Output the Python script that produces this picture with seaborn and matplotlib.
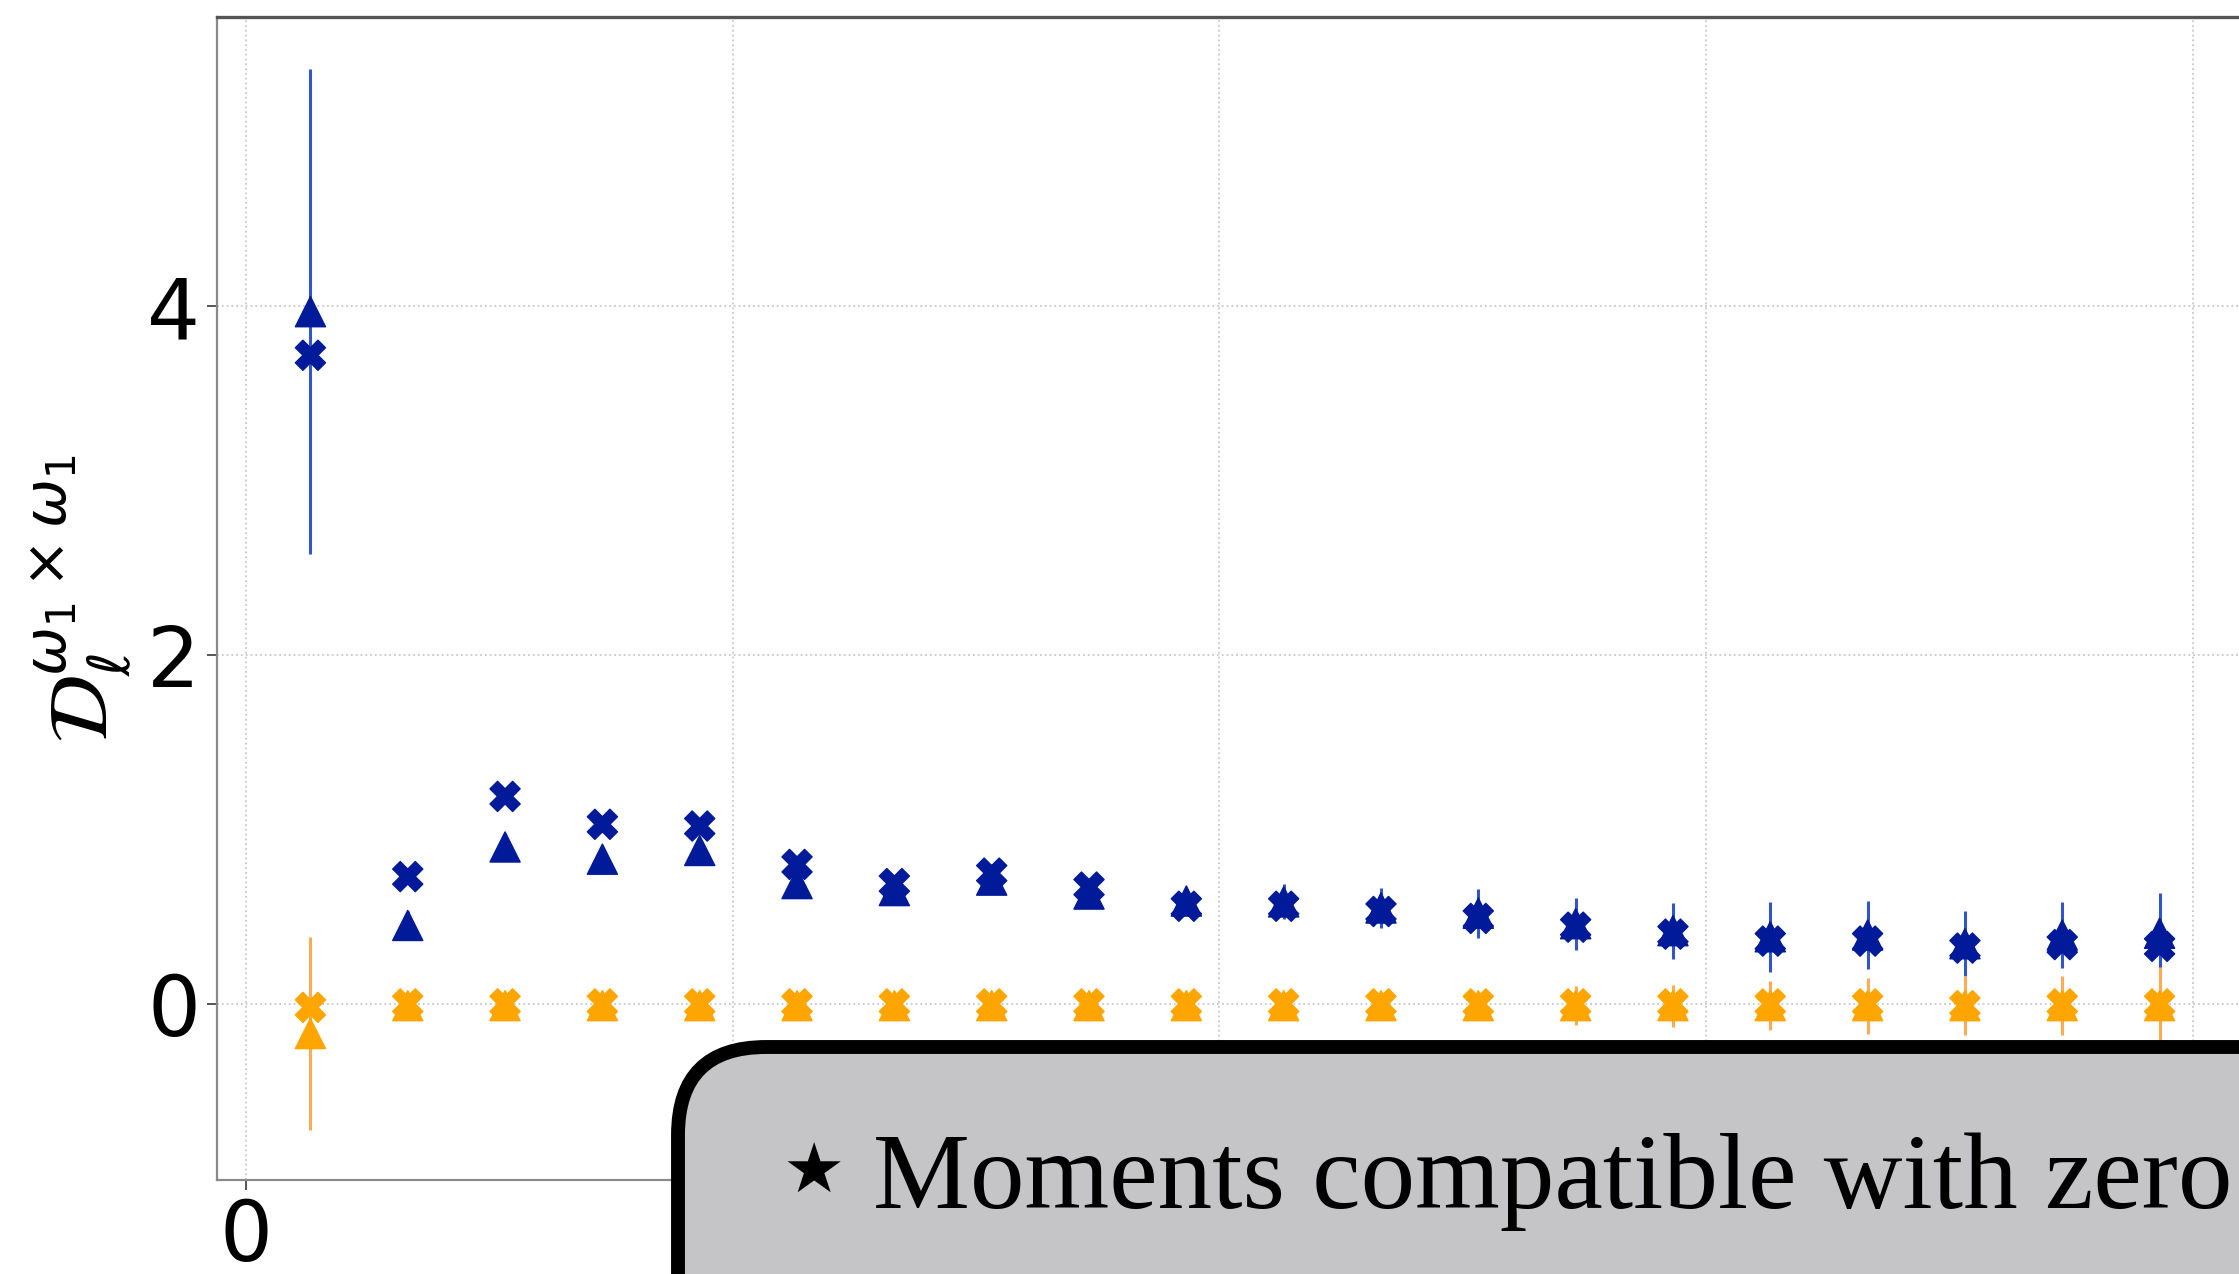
import numpy as np
import pandas as pd
import matplotlib
matplotlib.use("Agg")
import matplotlib.pyplot as plt
import seaborn as sns
from matplotlib.patches import FancyBboxPatch
from matplotlib.transforms import IdentityTransform

# multipole bin centres
ell = [66, 166, 266, 366, 466, 566, 666, 766, 866, 966,
       1066, 1166, 1266, 1366, 1466, 1566, 1666, 1766, 1866, 1966]

# omega_1 x omega_1 band powers, two estimators
w1_cross = [3.72, 0.73, 1.19, 1.03, 1.02, 0.80, 0.69, 0.75, 0.67, 0.56,
            0.56, 0.53, 0.49, 0.44, 0.40, 0.36, 0.36, 0.32, 0.34, 0.33]
w1_tri = [3.97, 0.45, 0.90, 0.83, 0.88, 0.69, 0.65, 0.71, 0.63, 0.59,
          0.585, 0.55, 0.52, 0.46, 0.42, 0.385, 0.395, 0.345, 0.395, 0.405]
w1_err = [1.39, 0.08, 0.04, 0.04, 0.04, 0.05, 0.05, 0.05, 0.06, 0.07,
          0.10, 0.115, 0.14, 0.15, 0.16, 0.20, 0.195, 0.185, 0.19, 0.23]

# null-test band powers, two estimators
null_cross = [-0.02, 0.0, 0.0, 0.0, 0.0, 0.0, 0.0, 0.0, 0.0, 0.0,
              0.0, 0.0, 0.0, 0.0, 0.0, 0.0, 0.0, -0.01, 0.0, 0.0]
null_tri = [-0.17, -0.01, -0.01, -0.01, -0.01, -0.01, -0.01, -0.01, -0.01, -0.01,
            -0.01, -0.01, -0.01, -0.01, -0.01, -0.01, -0.01, -0.01, -0.01, -0.01]
null_err = [0.555, 0.03, 0.03, 0.03, 0.03, 0.03, 0.03, 0.03, 0.04, 0.04,
            0.05, 0.06, 0.07, 0.11, 0.12, 0.14, 0.16, 0.17, 0.17, 0.22]

x_ticks = [0, 500, 1000, 1500, 2000]
x_ticklabels = ["0", "", "", "", ""]
y_ticks = [0, 2, 4]

BLUE = "#001A99"
ORANGE = "#FFA500"

frames = []
for field, est, vals in [("w1", "cross", w1_cross), ("w1", "tri", w1_tri),
                         ("null", "cross", null_cross), ("null", "tri", null_tri)]:
    frames.append(pd.DataFrame({"ell": ell, "D": vals, "field": field, "estimator": est}))
df = pd.concat(frames, ignore_index=True)

sns.set_theme(style="white")
plt.rcParams["font.family"] = ["DejaVu Sans"]
plt.rcParams["text.color"] = "black"
plt.rcParams["axes.labelcolor"] = "black"
plt.rcParams["xtick.labelcolor"] = "black"
plt.rcParams["ytick.labelcolor"] = "black"

W, H = 2239, 1274
fig = plt.figure(figsize=(W / 100, H / 100), dpi=100)
ax = fig.add_axes([217 / W, 94 / H, 2073 / W, 1163 / H])

ax.errorbar(ell, w1_tri, yerr=w1_err, fmt="none", ecolor="#3355cc",
            elinewidth=2.2, capsize=0, zorder=2)
ax.errorbar(ell, null_tri, yerr=null_err, fmt="none", ecolor="#ffab55",
            elinewidth=2.2, capsize=0, zorder=2)

sns.scatterplot(data=df, x="ell", y="D", hue="field", style="estimator",
                palette={"w1": BLUE, "null": ORANGE},
                markers={"cross": "X", "tri": "^"},
                s=470, edgecolor="face", linewidth=1.0, legend=False,
                ax=ax, zorder=3)

ax.set_xlim(-30, 2100)
ax.set_ylim(-1.01, 5.66)
ax.set_xticks(x_ticks)
ax.set_xticklabels(x_ticklabels)
ax.set_yticks(y_ticks)
ax.set_xlabel("")
ax.set_ylabel(r"$\mathcal{D}_\ell^{\omega_1\times\omega_1}$", fontsize=60,
              color="black")
ax.yaxis.set_label_coords(-0.040, 0.5)

ax.grid(True, which="major", linestyle=":", color="#c8c8c8", linewidth=1.3)
ax.tick_params(axis="both", labelsize=60, length=7, width=1.4,
               color="#555555", labelcolor="black", pad=5,
               left=True, bottom=True)
for side in ("left", "bottom"):
    ax.spines[side].set_color("#8a8a8a")
    ax.spines[side].set_linewidth(1.6)
ax.spines["top"].set_color("#555555")
ax.spines["top"].set_linewidth(2.4)
ax.spines["right"].set_visible(False)

# callout box over the lower right
box = FancyBboxPatch((678, -400), 2000, 627,
                     boxstyle="round,pad=0,rounding_size=88",
                     transform=IdentityTransform(), facecolor="#c5c5c7",
                     edgecolor="black", linewidth=10, zorder=20, clip_on=False)
fig.add_artist(box)
fig.text(814 / W, (H - 1173) / H, "\u2605", family=["DejaVu Sans"], fontsize=50,
         ha="center", va="center", color="black", zorder=21)
fig.text(873 / W, (H - 1208) / H, "Moments compatible with zero",
         family=["Liberation Serif", "DejaVu Serif"], fontsize=78.5,
         ha="left", va="baseline", color="black", zorder=21)

fig.savefig("out.png", dpi=100)
